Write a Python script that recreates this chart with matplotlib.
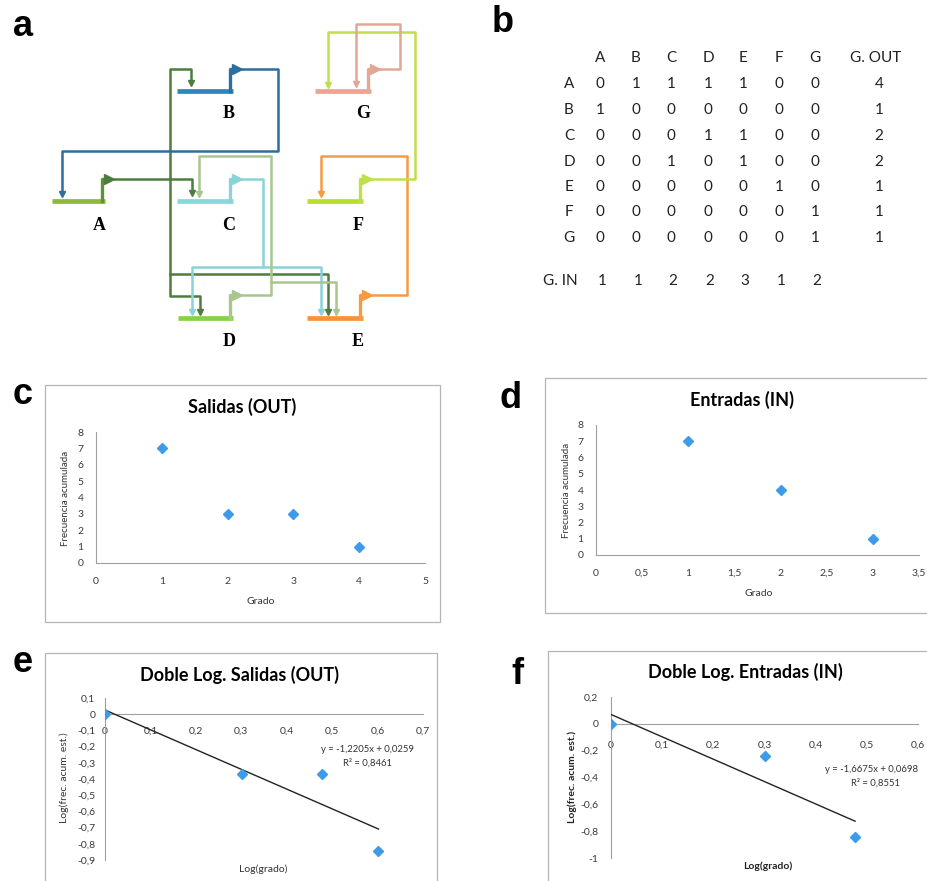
import matplotlib
matplotlib.use("Agg")
import matplotlib.pyplot as plt
from matplotlib.patches import Rectangle
from matplotlib.ticker import FuncFormatter, MultipleLocator

W, H = 928, 881
fig = plt.figure(figsize=(W / 100, H / 100), dpi=100)
fig.patch.set_facecolor("white")

# ---------------- data ----------------
nodes = ["A", "B", "C", "D", "E", "F", "G"]
adjacency = [
    [0, 1, 1, 1, 1, 0, 0],
    [1, 0, 0, 0, 0, 0, 0],
    [0, 0, 0, 1, 1, 0, 0],
    [0, 0, 1, 0, 1, 0, 0],
    [0, 0, 0, 0, 0, 1, 0],
    [0, 0, 0, 0, 0, 0, 1],
    [0, 0, 0, 0, 0, 0, 1],
]
g_out = [4, 1, 2, 2, 1, 1, 1]
g_in = [1, 1, 2, 2, 3, 1, 2]

deg_out = [1, 2, 3, 4]
cum_out = [7, 3, 3, 1]
deg_in = [1, 2, 3]
cum_in = [7, 4, 1]

log_deg_out = [0.0, 0.301, 0.477, 0.602]
log_cum_out = [0.0, -0.368, -0.368, -0.845]
log_deg_in = [0.0, 0.301, 0.477]
log_cum_in = [0.0, -0.243, -0.845]

slope_out, icpt_out, r2_out = -1.2205, 0.0259, 0.8461
slope_in, icpt_in, r2_in = -1.6675, 0.0698, 0.8551

# gene diagram: node -> (bar left, step x, bar y, step top y, bar colour, line colour)
genes = {
    "A": (52, 102, 201, 179, "#8fb83c", "#4d7c3f"),
    "B": (177, 230, 91, 69, "#2f86b8", "#2c6f9e"),
    "C": (177, 230, 201, 179, "#86d8dc", "#8ad3d8"),
    "D": (178, 230, 318, 295, "#84d24a", "#a9c690"),
    "E": (307, 360, 318, 295, "#f7923a", "#f59b42"),
    "F": (307, 360, 201, 179, "#b8df2a", "#bfe04a"),
    "G": (315, 368, 91, 69, "#eba592", "#e3a796"),
}
label_pos = {"A": (99, 225), "B": (229, 114), "C": (229, 225), "D": (229, 341),
             "E": (358, 341), "F": (358, 225), "G": (363, 114)}
# edge routes (source gene, polyline, ends with arrow)
routes = [
    ("A", [(108, 179), (192, 179), (192, 193)], True),
    ("A", [(170, 179), (170, 69), (191, 69), (191, 83)], True),
    ("A", [(170, 179), (170, 296), (200, 296), (200, 312)], True),
    ("A", [(170, 274), (328, 274), (328, 312)], True),
    ("B", [(237, 69), (278, 69), (278, 151), (62, 151), (62, 194)], True),
    ("C", [(237, 179), (263, 179), (263, 267), (192, 267), (192, 312)], True),
    ("C", [(263, 267), (321, 267), (321, 312)], True),
    ("D", [(237, 295), (271, 295), (271, 156), (199, 156), (199, 194)], True),
    ("D", [(271, 282), (336, 282), (336, 312)], True),
    ("E", [(367, 295), (407, 295), (407, 156), (321, 156), (321, 194)], True),
    ("F", [(367, 179), (415, 179), (415, 32), (328, 32), (328, 85)], True),
    ("G", [(375, 69), (400, 69), (400, 24), (356, 24), (356, 84)], True),
]

# table layout
col_x = [600, 636, 671, 708, 743, 779, 815]
gout_x = 879
row_y = [84, 110, 136, 162, 187, 212, 238]
head_y = 58
gin_y = 281
rowlab_x = 569

# ---------------- base canvas ----------------
bg = fig.add_axes([0, 0, 1, 1])
bg.set_xlim(0, W)
bg.set_ylim(H, 0)
bg.axis("off")

PF = "Liberation Sans"
CF = "Lato"

for letter, (x, y) in {"a": (23, 26), "b": (503, 22), "c": (23, 394), "d": (511, 399),
                       "e": (23, 662), "f": (517, 674)}.items():
    bg.text(x, y, letter, fontsize=26, fontweight="bold", family=PF,
            ha="center", va="center")

# ---- panel a ----
for g, (xl, xs, yb, yt, cbar, cline) in genes.items():
    bg.plot([xl, xs + 3], [yb, yb], color=cbar, lw=3.4, solid_capstyle="butt", zorder=3)
    bg.plot([xs, xs, xs + 5], [yb, yt, yt], color=cline if g != "A" else "#5f8f3a",
            lw=2.4, zorder=3)
    bg.plot([xs + 7], [yt], marker=">", color=cline, markersize=7, zorder=4)
    bg.text(*label_pos[g], g, fontsize=13, fontweight="bold", family="Liberation Serif",
            ha="center", va="center")
for src, pts, arrow in routes:
    col = genes[src][5]
    xs_, ys_ = zip(*pts)
    bg.plot(xs_, ys_, color=col, lw=1.8, zorder=2)
    if arrow:
        bg.plot([xs_[-1]], [ys_[-1]], marker="v", color=col, markersize=5, zorder=4)

# ---- panel b ----
tk = dict(fontsize=11, family=CF, color="#222222", ha="center", va="center")
for j, n in enumerate(nodes):
    bg.text(col_x[j], head_y, n, **tk)
bg.text(gout_x - 3, head_y, "G. OUT", **tk)
for i, n in enumerate(nodes):
    bg.text(rowlab_x, row_y[i], n, **tk)
    for j in range(len(nodes)):
        bg.text(col_x[j], row_y[i], str(adjacency[i][j]), **tk)
    bg.text(gout_x, row_y[i], str(g_out[i]), **tk)
bg.text(560, gin_y, "G. IN", **tk)
for j in range(len(nodes)):
    bg.text(col_x[j] + 2, gin_y, str(g_in[j]), **tk)

# ---- chart frames ----
for (x0, y0, x1, y1) in [(45, 385, 440, 622), (545, 378, 940, 613),
                         (45, 653, 437, 895), (548, 651, 940, 895)]:
    bg.add_patch(Rectangle((x0, y0), x1 - x0, y1 - y0, fill=False,
                           edgecolor="#b5b5b5", lw=0.9, zorder=1))


def pax(l, t, r, b):
    return fig.add_axes([l / W, 1 - b / H, (r - l) / W, (b - t) / H])


def comma(v, pos=None):
    if abs(v) < 1e-9:
        return "0"
    s = ("%.1f" % v).rstrip("0").rstrip(".")
    return s.replace(".", ",")


def style(ax, xpad, ypad):
    ax.set_facecolor("none")
    for s in ("top", "right"):
        ax.spines[s].set_visible(False)
    for s in ("left", "bottom"):
        ax.spines[s].set_color("#a0a0a0")
        ax.spines[s].set_linewidth(0.8)
    ax.tick_params(length=0, labelsize=7.5, labelcolor="#3a3a3a")
    ax.tick_params(axis="x", pad=xpad)
    ax.tick_params(axis="y", pad=ypad)
    ax.xaxis.set_major_formatter(FuncFormatter(comma))
    ax.yaxis.set_major_formatter(FuncFormatter(comma))
    for lab in ax.get_xticklabels() + ax.get_yticklabels():
        lab.set_family(CF)


MK = dict(marker="D", color="#3d9be9", markersize=5.5, linestyle="none", zorder=5)


def fmt4(v):
    return ("%.4f" % v).replace(".", ",")


# ---- panel c ----
axc = pax(96, 432, 425, 563)
axc.plot(deg_out, cum_out, **MK)
axc.set_xlim(0, 5)
axc.set_ylim(0, 8)
axc.xaxis.set_major_locator(MultipleLocator(1))
axc.yaxis.set_major_locator(MultipleLocator(1))
style(axc, 10, 9)
bg.text(242, 407, "Salidas (OUT)", fontsize=13, fontweight="bold", family=CF,
        ha="center", va="center")
bg.text(261, 602, "Grado", fontsize=7.5, family=CF, ha="center", va="center", color="#333")
bg.text(66, 498, "Frecuencia acumulada", fontsize=7, family=CF, rotation=90,
        ha="center", va="center", color="#333")

# ---- panel d ----
axd = pax(596, 425, 919, 555)
axd.plot(deg_in, cum_in, **MK)
axd.set_xlim(0, 3.5)
axd.set_ylim(0, 8)
axd.xaxis.set_major_locator(MultipleLocator(0.5))
axd.yaxis.set_major_locator(MultipleLocator(1))
style(axd, 10, 9)
bg.text(742, 400, "Entradas (IN)", fontsize=13, fontweight="bold", family=CF,
        ha="center", va="center")
bg.text(759, 594, "Grado", fontsize=7.5, family=CF, ha="center", va="center", color="#333")
bg.text(567, 490, "Frecuencia acumulada", fontsize=7, family=CF, rotation=90,
        ha="center", va="center", color="#333")

# ---- panel e ----
axe = pax(105, 698, 423, 860)
axe.plot(log_deg_out, log_cum_out, **MK)
xe = [log_deg_out[0], log_deg_out[-1]]
axe.plot(xe, [slope_out * x + icpt_out for x in xe], color="#222222", lw=1.0, zorder=4)
axe.set_xlim(0, 0.7)
axe.set_ylim(-0.9, 0.1)
axe.spines["bottom"].set_position(("data", 0))
axe.xaxis.set_major_locator(MultipleLocator(0.1))
axe.yaxis.set_major_locator(MultipleLocator(0.1))
style(axe, 9, 7)
bg.text(240, 675, "Doble Log. Salidas (OUT)", fontsize=13, fontweight="bold",
        family=CF, ha="center", va="center")
bg.text(263, 869, "Log(grado)", fontsize=7.5, family=CF, ha="center", va="center", color="#333")
bg.text(64, 778, "Log(frec. acum. est.)", fontsize=7.5, family=CF, rotation=90,
        ha="center", va="center", color="#333")
bg.text(368, 749, "y = %sx + %s" % (fmt4(slope_out), fmt4(icpt_out)),
        fontsize=6.8, family=CF, ha="center", va="center", color="#333")
bg.text(368, 763, "R² = " + fmt4(r2_out), fontsize=6.8,
        family=CF, ha="center", va="center", color="#333")

# ---- panel f ----
axf = pax(611, 697, 918, 858)
axf.plot(log_deg_in, log_cum_in, **MK)
xf = [log_deg_in[0], log_deg_in[-1]]
axf.plot(xf, [slope_in * x + icpt_in for x in xf], color="#222222", lw=1.0, zorder=4)
axf.set_xlim(0, 0.6)
axf.set_ylim(-1.0, 0.2)
axf.spines["bottom"].set_position(("data", 0))
axf.xaxis.set_major_locator(MultipleLocator(0.1))
axf.yaxis.set_major_locator(MultipleLocator(0.2))
style(axf, 12, 9)
bg.text(745, 672, "Doble Log. Entradas (IN)", fontsize=13, fontweight="bold",
        family=CF, ha="center", va="center")
bg.text(768, 866, "Log(grado)", fontsize=7.5, fontweight="bold", family=CF,
        ha="center", va="center", color="#222")
bg.text(572, 777, "Log(frec. acum. est.)", fontsize=7.5, fontweight="bold", family=CF,
        rotation=90, ha="center", va="center", color="#222")
bg.text(872, 770, "y = %sx + %s" % (fmt4(slope_in), fmt4(icpt_in)),
        fontsize=6.8, family=CF, ha="center", va="center", color="#333")
bg.text(876, 783, "R² = " + fmt4(r2_in), fontsize=6.8,
        family=CF, ha="center", va="center", color="#333")

fig.savefig("out.png", dpi=100, facecolor="white")
